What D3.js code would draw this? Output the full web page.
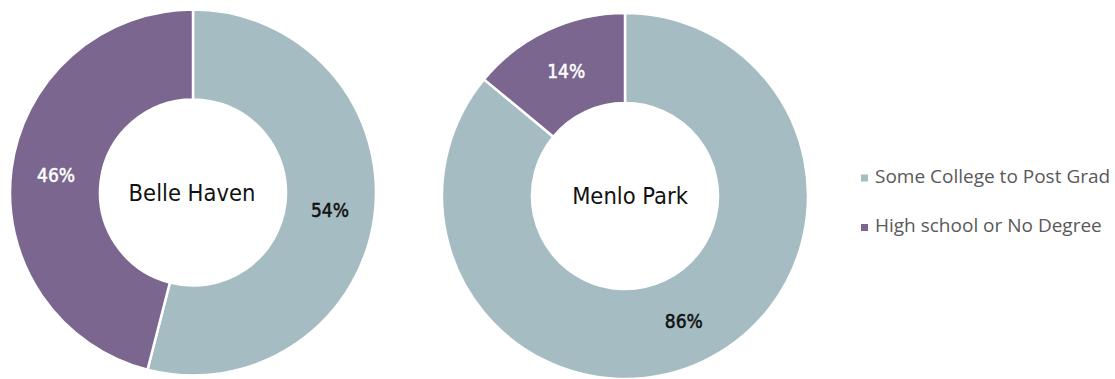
<!DOCTYPE html>
<html>
<head>
<meta charset="utf-8">
<script src="https://cdn.jsdelivr.net/npm/d3@7"></script>
<style>
  html, body { margin: 0; padding: 0; background: #ffffff; }
  svg { display: block; }
</style>
</head>
<body>
<svg id="chart" width="1115" height="379"></svg>
<script>
// Education attainment by community
const categories = ["Some College to Post Grad", "High school or No Degree"];
const communities = ["Belle Haven", "Menlo Park"];
const belleHavenValues = [54, 46];
const menloParkValues = [86, 14];
const seriesColors = ["#a5bcc2", "#7a668f"];
const labelColors = ["#111111", "#ffffff"];

const svg = d3.select("#chart");

const outerR = 183, innerR = 93;
const centers = [[193, 192.5], [625, 196]];
const valuesByCommunity = [belleHavenValues, menloParkValues];

const color = d3.scaleOrdinal().domain(categories).range(seriesColors);
const textColor = d3.scaleOrdinal().domain(categories).range(labelColors);

const pie = d3.pie().sort(null).value(d => d.value);
const arc = d3.arc().innerRadius(innerR).outerRadius(outerR);
const labelArc = d3.arc().innerRadius(innerR + 2).outerRadius(outerR - 2);

const labelFont = "'DejaVu Sans Condensed', 'DejaVu Sans', sans-serif";

communities.forEach((name, i) => {
  const data = categories.map((c, k) => ({ category: c, value: valuesByCommunity[i][k] }));
  const g = svg.append("g").attr("transform", `translate(${centers[i][0]},${centers[i][1]})`);
  const arcs = pie(data);

  g.selectAll("path.slice")
    .data(arcs)
    .join("path")
    .attr("class", "slice")
    .attr("d", arc)
    .attr("fill", d => color(d.data.category))
    .attr("stroke", "#ffffff")
    .attr("stroke-width", 2.5)
    .attr("stroke-linejoin", "round");

  g.selectAll("text.pct")
    .data(arcs)
    .join("text")
    .attr("class", "pct")
    .attr("transform", d => `translate(${labelArc.centroid(d)})`)
    .attr("text-anchor", "middle")
    .attr("dy", "0.36em")
    .attr("font-family", labelFont)
    .attr("font-size", 19)
    .attr("fill", d => textColor(d.data.category))
    .attr("stroke", d => textColor(d.data.category))
    .attr("stroke-width", 0.5)
    .text(d => d.data.value + "%");

  g.append("text")
    .attr("x", i === 0 ? -1 : 5)
    .attr("y", 0)
    .attr("dy", "0.36em")
    .attr("text-anchor", "middle")
    .attr("font-family", labelFont)
    .attr("font-size", 23.5)
    .attr("fill", "#111111")
    .text(name);
});

// Legend
const legend = svg.append("g").attr("transform", "translate(861,0)");
const legendY = d3.scalePoint().domain(categories).range([178, 227.5]);
const items = legend.selectAll("g.item")
  .data(categories)
  .join("g")
  .attr("class", "item")
  .attr("transform", d => `translate(0,${legendY(d)})`);
items.append("rect")
  .attr("x", 0).attr("y", -3.5)
  .attr("width", 7).attr("height", 7)
  .attr("fill", d => color(d));
items.append("text")
  .attr("x", 14)
  .attr("y", 4.5)
  .attr("font-family", "'Open Sans', sans-serif")
  .attr("font-size", 19)
  .attr("fill", "#595959")
  .text(d => d);
</script>
</body>
</html>
